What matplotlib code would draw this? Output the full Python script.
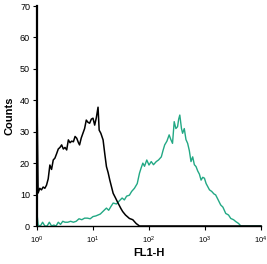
import matplotlib
matplotlib.use("Agg")
from matplotlib import pyplot as plt
import numpy as np

plt.rcParams['font.family'] = ['Liberation Sans', 'DejaVu Sans']

# control (black) histogram: log10 channel position, counts
ctrl_log = [0, 0, 0.02, 0.05, 0.08, 0.11, 0.14, 0.17, 0.20, 0.23, 0.26, 0.29, 0.32, 0.35,
            0.38, 0.41, 0.44, 0.47, 0.50, 0.53, 0.56, 0.59, 0.62, 0.65, 0.68, 0.71, 0.74,
            0.76, 0.79, 0.82, 0.85, 0.88, 0.91, 0.94, 0.97, 1.00, 1.03, 1.06, 1.09, 1.11,
            1.14, 1.18, 1.21, 1.24, 1.27, 1.30, 1.33, 1.36, 1.40, 1.45, 1.50, 1.53, 1.58,
            1.65, 1.71, 1.77, 1.83, 4.0]
ctrl_counts = [0, 41.7, 10.5, 12, 11.5, 12.4, 12, 13, 15, 19.4, 18, 21, 21.6, 23,
               24.5, 25, 25.8, 24.5, 25, 24.2, 27.4, 26.5, 27, 26.8, 28.5, 27.9, 26.5,
               25.8, 28, 29.5, 31, 33.7, 33, 32.7, 34, 34.3, 32.1, 34.5, 37.8, 30.5,
               29.5, 27.4, 23, 18.9, 17, 14.6, 12.5, 10.4, 9, 7.2, 5.5, 4.6, 3.5,
               2.4, 2, 0.8, 0, 0]

# stained (green) histogram
stain_log = [0, 0, 0.02, 0.06, 0.1, 0.14, 0.18, 0.22, 0.26, 0.30, 0.34, 0.38, 0.42, 0.46,
             0.50, 0.55, 0.6, 0.65, 0.7, 0.75, 0.8, 0.85, 0.9, 0.95, 1.0, 1.05, 1.09,
             1.13, 1.17, 1.21, 1.24, 1.28, 1.32, 1.36, 1.42, 1.47, 1.52, 1.56, 1.60,
             1.65, 1.69, 1.74, 1.79, 1.83, 1.86, 1.89, 1.92, 1.96, 2.0, 2.04, 2.08,
             2.13, 2.17, 2.22, 2.25, 2.28, 2.32, 2.36, 2.39, 2.42, 2.45, 2.48, 2.51,
             2.53, 2.55, 2.58, 2.6, 2.63, 2.66, 2.69, 2.72, 2.75, 2.78, 2.81, 2.84,
             2.87, 2.9, 2.93, 2.96, 2.99, 3.02, 3.05, 3.08, 3.12, 3.16, 3.19, 3.23,
             3.28, 3.32, 3.37, 3.42, 3.46, 3.51, 3.55, 3.6, 3.64, 4.0]
stain_counts = [0, 4, 0.3, 0, 1.2, 0, 0, 1.2, 0, 0.3, 0, 1.2, 0.5, 1.5,
                1.2, 1.2, 1.5, 1.2, 1.5, 2.3, 2, 2.5, 2.5, 2.3, 3, 3.2, 3.5,
                3.8, 4.5, 5.2, 5.7, 5, 6.2, 7.3, 7, 8, 8.9, 8.3, 9.5,
                9.8, 11, 12, 13.5, 16.8, 18.5, 20, 19, 21, 19.4, 20.5, 19.5,
                20.5, 21, 22, 24, 25.8, 27, 29, 27.5, 26.3, 33.2, 31, 31.6,
                34, 35.3, 31, 29.5, 31, 27.5, 26.3, 24, 20.5, 22, 19.5, 18.9,
                17.5, 16.5, 14.6, 15.5, 15.2, 13.5, 12.5, 11.5, 11, 10.2, 9.9, 8.5,
                6.7, 6, 4, 3.5, 2.4, 2, 1.4, 0.8, 0, 0]

y_ticks = [0, 10, 20, 30, 40, 50, 60, 70]
x_ticks = [1, 10, 100, 1000, 10000]

fig = plt.figure(figsize=(2.67, 2.64), dpi=100)
ax = fig.add_axes([37/267, 1-226/264, 224/267, 220/264])

ax.plot(10**np.array(stain_log), stain_counts, color="#22a884", lw=1.0, clip_on=False)
ax.plot(10**np.array(ctrl_log), ctrl_counts, color="black", lw=1.1, clip_on=False)

ax.set_xscale("log")
ax.set_xlim(1, 1e4)
ax.set_ylim(0, 70)
ax.set_yticks(y_ticks)
ax.set_xticks(x_ticks)
ax.minorticks_off()
ax.tick_params(axis="x", which="major", length=3, width=0.8, labelsize=5.5, pad=3)
ax.tick_params(axis="y", which="major", length=3, width=0.8, labelsize=6.5, pad=2)

for s in ["top", "right"]:
    ax.spines[s].set_visible(False)
ax.spines["left"].set_linewidth(1.6)
ax.spines["bottom"].set_linewidth(1.0)

ax.set_ylabel("Counts", fontsize=8, fontweight="bold", labelpad=4)
ax.set_xlabel("FL1-H", fontsize=8, fontweight="bold", labelpad=2)

fig.savefig("out.png", dpi=100)
